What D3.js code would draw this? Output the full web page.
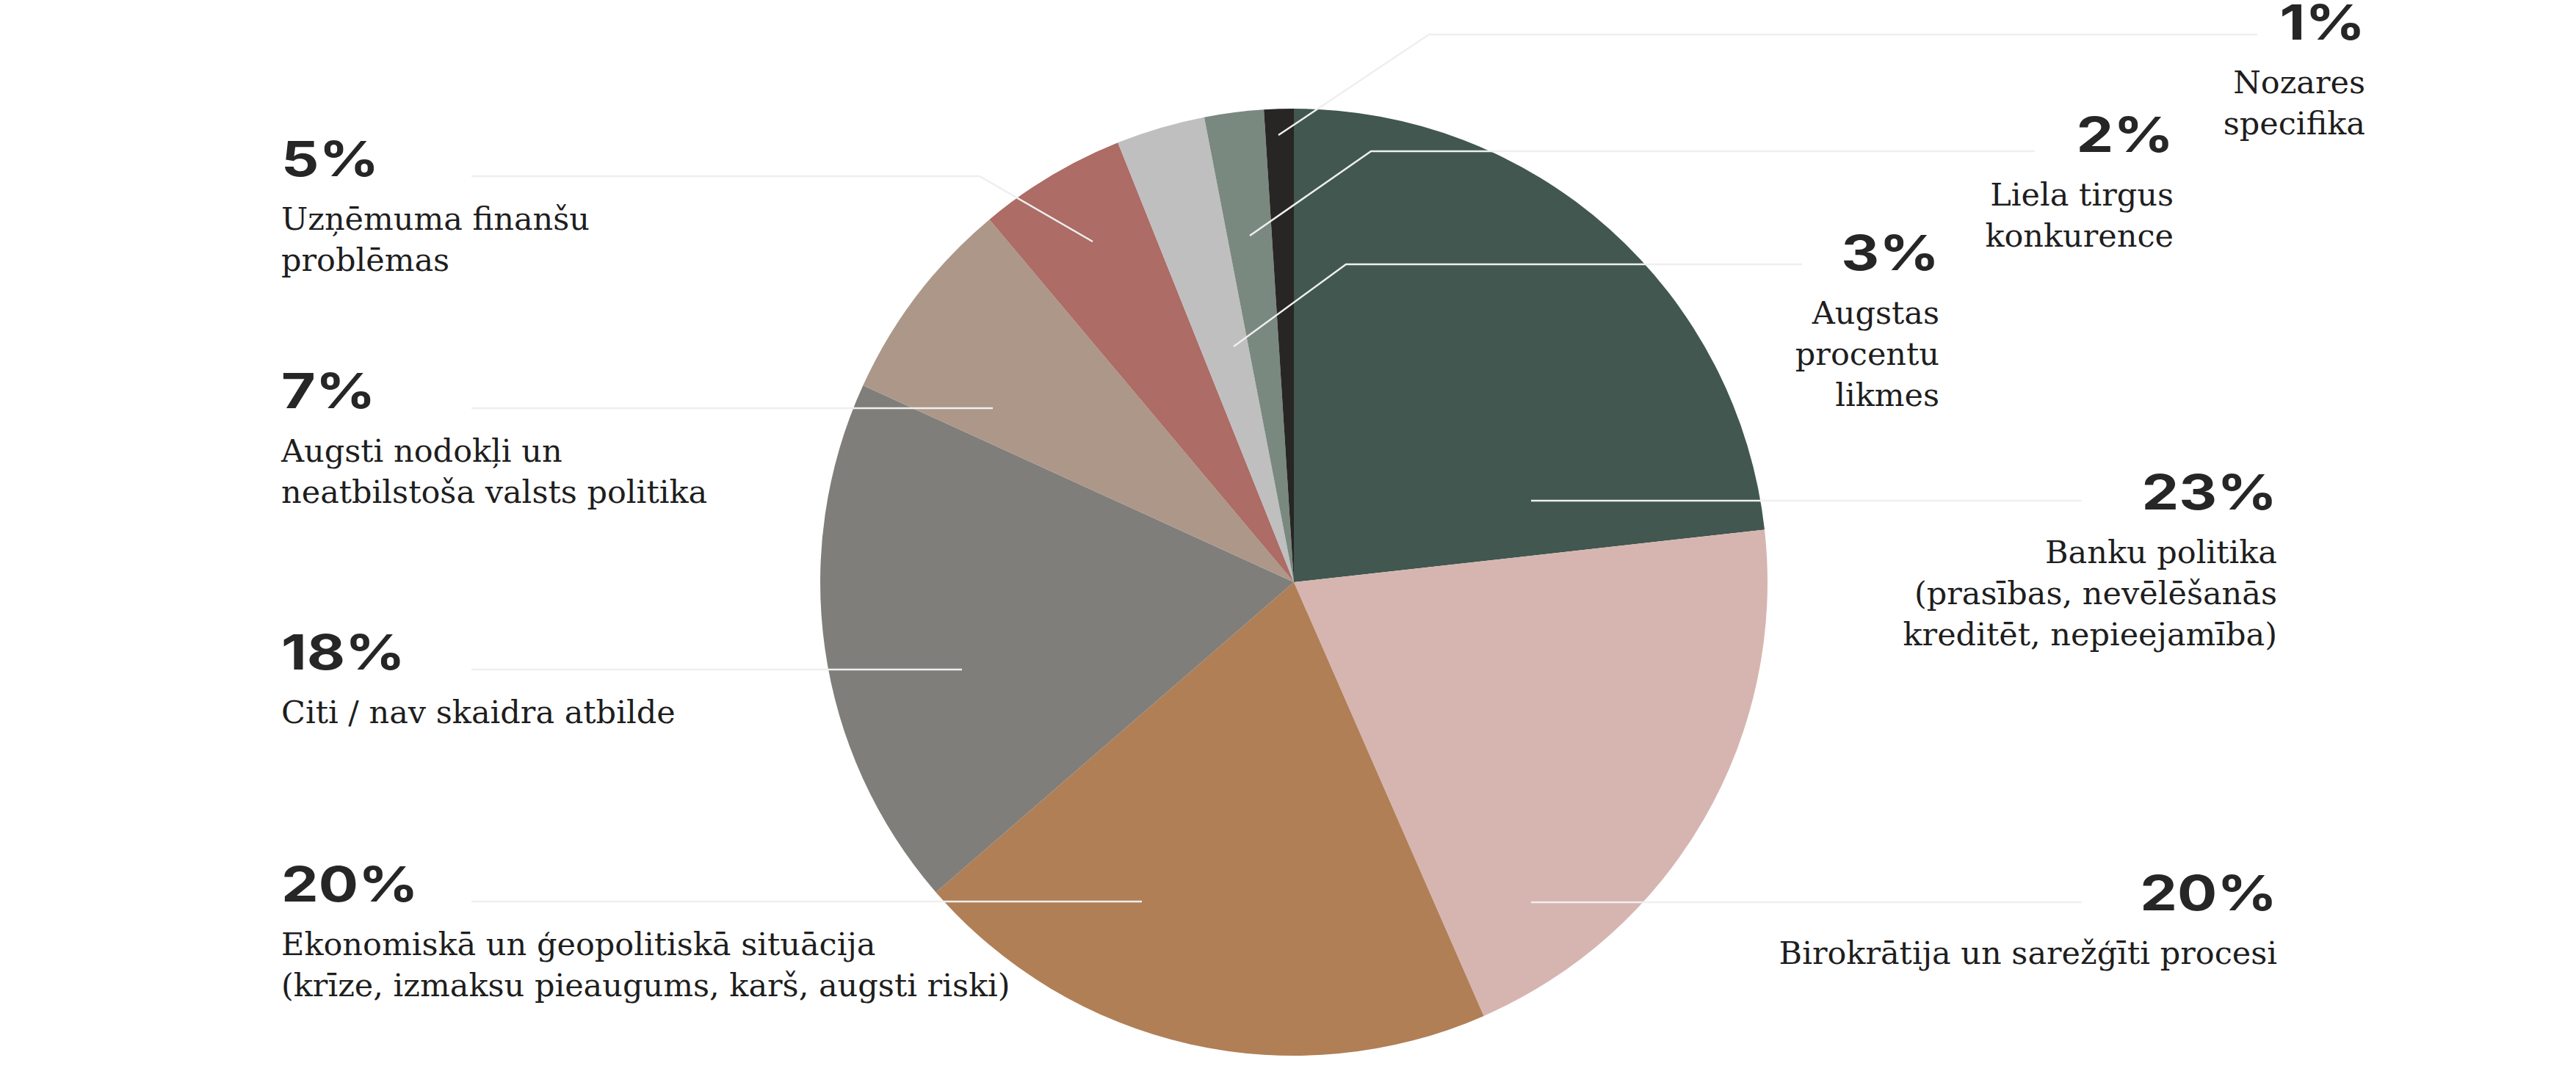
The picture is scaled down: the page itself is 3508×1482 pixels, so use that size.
<!DOCTYPE html>
<html>
<head>
<meta charset="utf-8">
<script src="https://cdn.jsdelivr.net/npm/d3@7"></script>
<style>
  html, body { margin: 0; padding: 0; background: #fff; }
  svg { display: block; }
  .pct { font-family: Inter, "DejaVu Sans", sans-serif; font-weight: 700; fill: #262626; }
  .desc { font-family: "DejaVu Serif", serif; fill: #1e1e1e; }
</style>
</head>
<body>
<div id="chart"></div>
<script>
"use strict";

// answer categories, clockwise from 12 o'clock
var categories = [
    ["Banku politika", "(prasības, nevēlēšanās", "kreditēt, nepieejamība)"],
    ["Birokrātija un sarežģīti procesi"],
    ["Ekonomiskā un ģeopolitiskā situācija", "(krīze, izmaksu pieaugums, karš, augsti riski)"],
    ["Citi / nav skaidra atbilde"],
    ["Augsti nodokļi un", "neatbilstoša valsts politika"],
    ["Uzņēmuma finanšu", "problēmas"],
    ["Augstas", "procentu", "likmes"],
    ["Liela tirgus", "konkurence"],
    ["Nozares", "specifika"]
];
var shares = [23, 20, 20, 18, 7, 5, 3, 2, 1];
var sliceColors = ["#41574f", "#d6b5b0", "#b07f56", "#807e7a", "#ac9789",
                   "#ad6c66", "#bfbfbf", "#7a897f", "#272625"];

// where each label sits (annotation layout, pixels)
// x/y: label anchor, lineY: leader height, outerX: leader end near label,
// kinkX: where the leader bends (null = straight), inner: point inside slice relative to pie centre
var labelLayout = [
    { side: "right", x: 3101, y: 694,  lineY: 682,  outerX: 2835, kinkX: null, inner: [323, -111] },
    { side: "right", x: 3101, y: 1240, lineY: 1229, outerX: 2835, kinkX: null, inner: [323, 436] },
    { side: "left",  x: 383,  y: 1228, lineY: 1228, outerX: 642,  kinkX: null, inner: [-207, 435] },
    { side: "left",  x: 383,  y: 912,  lineY: 912,  outerX: 642,  kinkX: null, inner: [-452, 119] },
    { side: "left",  x: 383,  y: 556,  lineY: 556,  outerX: 642,  kinkX: null, inner: [-410, -237] },
    { side: "left",  x: 383,  y: 240,  lineY: 240,  outerX: 642,  kinkX: 1334, inner: [-274, -464] },
    { side: "right", x: 2641, y: 368,  lineY: 360,  outerX: 2454, kinkX: 1833, inner: [-82, -321] },
    { side: "right", x: 2960, y: 207,  lineY: 206,  outerX: 2771, kinkX: 1867, inner: [-60, -472] },
    { side: "right", x: 3221, y: 54,   lineY: 47,   outerX: 3074, kinkX: 1946, inner: [-21, -609] }
];

var PieChart = (function () {
    function PieChart(selector, width, height) {
        this.selector = selector;
        this.width = width;
        this.height = height;
        this.cx = 1762;
        this.cy = 793;
        this.radius = 645;
    }
    PieChart.prototype.create = function () {
        var self = this;
        this.svg = d3.select(this.selector)
            .append("svg")
            .attr("width", this.width)
            .attr("height", this.height);

        this.svg.append("rect")
            .attr("width", this.width)
            .attr("height", this.height)
            .attr("fill", "#fff");

        // title is cropped by the frame, only the bottom of its brackets shows
        this.svg.append("text")
            .attr("class", "pct")
            .attr("y", -9)
            .attr("font-size", 66)
            .selectAll("tspan")
            .data([["(", 262], [")", 646]])
            .enter().append("tspan")
            .attr("x", function (d) { return d[1]; })
            .text(function (d) { return d[0]; });

        var pie = d3.pie()
            .sort(null)
            .value(function (d) { return d; });

        var arc = d3.arc()
            .innerRadius(0)
            .outerRadius(this.radius);

        var arcs = pie(shares);

        var g = this.svg.append("g")
            .attr("transform", "translate(" + this.cx + "," + this.cy + ")");

        g.selectAll("path")
            .data(arcs)
            .enter().append("path")
            .attr("d", arc)
            .attr("fill", function (d, i) { return sliceColors[i]; });

        // leader lines
        var line = d3.line();
        this.svg.append("g")
            .attr("class", "leaders")
            .selectAll("path")
            .data(labelLayout)
            .enter().append("path")
            .attr("d", function (d) {
                var ix = self.cx + d.inner[0];
                var iy = self.cy + d.inner[1];
                var pts = [[d.outerX, d.lineY]];
                if (d.kinkX !== null) {
                    pts.push([d.kinkX, d.lineY]);
                }
                pts.push([ix, iy]);
                return line(pts);
            })
            .attr("fill", "none")
            .attr("stroke", "#efefef")
            .attr("stroke-width", 2.5);

        var labels = this.svg.append("g")
            .attr("class", "labels")
            .selectAll("g")
            .data(labelLayout)
            .enter().append("g")
            .attr("transform", function (d) { return "translate(" + d.x + "," + d.y + ")"; });

        labels.append("text")
            .attr("class", "pct")
            .attr("font-size", 66)
            .attr("transform", "scale(1.22,1)")
            .attr("text-anchor", function (d) { return d.side === "left" ? "start" : "end"; })
            .text(function (d, i) { return shares[i] + "%"; });

        labels.append("text")
            .attr("class", "desc")
            .attr("font-size", 43)
            .attr("text-anchor", function (d) { return d.side === "left" ? "start" : "end"; })
            .selectAll("tspan")
            .data(function (d, i) { return categories[i]; })
            .enter().append("tspan")
            .attr("x", 0)
            .attr("y", function (d, j) { return 73 + j * 56; })
            .text(function (d) { return d; });
    };
    return PieChart;
}());

var chart = new PieChart("#chart", 3508, 1482);
chart.create();
</script>
</body>
</html>
